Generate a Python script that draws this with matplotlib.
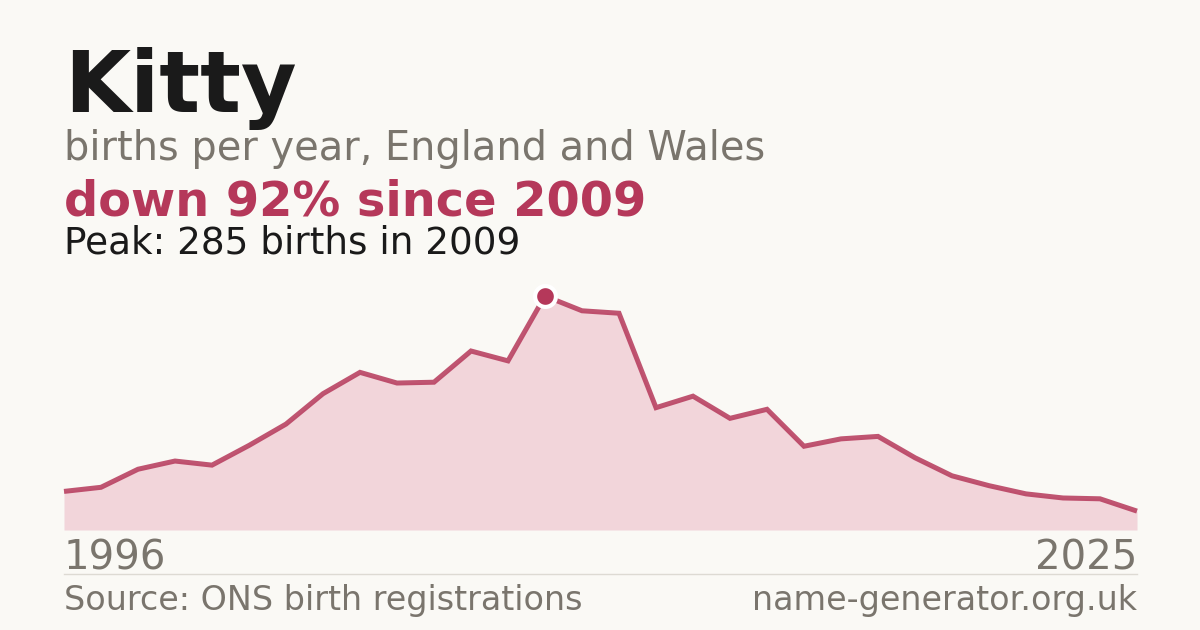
import matplotlib
matplotlib.use("Agg")
import matplotlib.pyplot as plt

plt.rcParams["font.family"] = ["DejaVu Sans"]

years = list(range(1996, 2026))
births = [47, 52, 74, 84, 79, 103, 129, 166, 192, 179, 180, 218, 206, 285,
          267, 264, 149, 163, 136, 147, 102, 111, 114, 88, 66, 54, 44, 39, 38, 23]
peak_year = 2009
peak_value = 285

title = "Kitty"
subtitle = "births per year, England and Wales"
headline = "down 92% since 2009"
peak_text = "Peak: 285 births in 2009"
source_text = "Source: ONS birth registrations"
site_text = "name-generator.org.uk"

BG = "#faf9f5"
DARK = "#1a1a1a"
GREY = "#7a756d"
RED = "#b5385a"
FILL = "#f2d5da"

W, H = 1200, 630
fig = plt.figure(figsize=(W / 100, H / 100), dpi=100, facecolor=BG)

def fx(px):
    return px / W

def fy(py):
    return 1 - py / H

# chart axes: x 64..1137 px, y 296..530 px
ax = fig.add_axes([fx(64), fy(530), fx(1137) - fx(64), (530 - 296) / H])
ax.set_facecolor("none")
ax.fill_between(years, births, 0, color=FILL, lw=0)
ax.plot(years, births, color=RED, lw=3.6, alpha=0.85, solid_joinstyle="miter",
        solid_capstyle="butt", clip_on=False)
ax.plot([peak_year], [peak_value], "o", ms=15, color=RED, mec="white", mew=3,
        clip_on=False, zorder=5)
ax.set_xlim(years[0], years[-1])
ax.set_ylim(0, peak_value)
ax.axis("off")

fig.text(fx(64), fy(112), title, fontsize=61.5, fontweight="bold", color=DARK,
         va="baseline", ha="left")
fig.text(fx(64), fy(160), subtitle, fontsize=28.75, color=GREY, va="baseline", ha="left")
fig.text(fx(64), fy(215), headline, fontsize=34.5, fontweight="bold", color=RED,
         va="baseline", ha="left")
fig.text(fx(64), fy(253), peak_text, fontsize=26.9, color=DARK, va="baseline", ha="left")

fig.text(fx(64), fy(570), str(years[0]), fontsize=29, color=GREY, va="baseline", ha="left")
fig.text(fx(1137), fy(570), str(years[-1]), fontsize=29, color=GREY, va="baseline", ha="right")

fig.add_artist(plt.Line2D([fx(64), fx(1137)], [fy(574), fy(574)], color="#dddad3", lw=1))

fig.text(fx(64), fy(610), source_text, fontsize=24, color=GREY, va="baseline", ha="left")
fig.text(fx(1137), fy(610), site_text, fontsize=24, color=GREY, va="baseline", ha="right")

fig.savefig("out.png", dpi=100, facecolor=BG)
